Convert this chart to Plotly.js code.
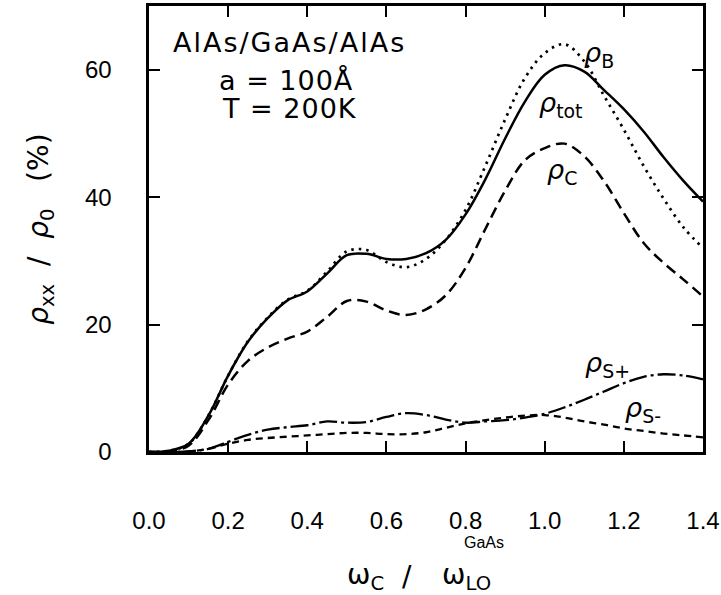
<!DOCTYPE html>
<html>
<head>
<meta charset="utf-8">
<script src="https://cdn.plot.ly/plotly-3.0.1.min.js"></script>
<style>
  html, body { margin: 0; padding: 0; background: #fff; }
  #chart { width: 721px; height: 595px; }
  g.annotation[data-index="0"] text { letter-spacing: 2px; }
  g.annotation[data-index="1"] text, g.annotation[data-index="2"] text { letter-spacing: 1px; }
</style>
</head>
<body>
<div id="chart"></div>
<script>
// omega_c / omega_LO(GaAs)
const xVals = [0.00, 0.05, 0.10, 0.15, 0.20, 0.25, 0.30, 0.35, 0.40, 0.45,
               0.50, 0.55, 0.60, 0.65, 0.70, 0.75, 0.80, 0.85, 0.90, 0.95,
               1.00, 1.05, 1.10, 1.15, 1.20, 1.25, 1.30, 1.35, 1.40];

// rho_xx / rho_0 (%)
const rhoTot = [0, 0.2, 1.3, 5.7, 12.0, 17.3, 21.0, 23.8, 25.2, 28.0,
                30.9, 31.1, 30.3, 30.3, 31.2, 33.3, 37.3, 42.8, 49.2, 55.0,
                59.2, 60.7, 59.7, 56.8, 53.8, 50.3, 46.3, 42.6, 39.3];
const rhoB   = [0, 0.2, 1.3, 5.7, 12.0, 17.4, 21.1, 23.9, 25.3, 28.3,
                31.5, 31.7, 29.8, 29.0, 30.3, 33.3, 38.0, 44.9, 52.2, 58.7,
                62.6, 64.0, 61.3, 55.9, 50.6, 44.9, 39.8, 35.3, 32.0];
const rhoC   = [0, 0.1, 1.0, 5.0, 10.6, 14.3, 16.4, 17.8, 18.9, 21.2,
                23.7, 23.6, 22.2, 21.5, 22.4, 24.6, 28.9, 35.0, 41.0, 45.8,
                47.7, 48.4, 46.4, 42.5, 37.5, 32.8, 29.7, 27.1, 24.4];
const rhoSp  = [0, 0, 0.1, 0.5, 1.6, 2.7, 3.5, 3.9, 4.2, 4.8,
                4.6, 4.7, 5.5, 6.1, 5.8, 5.1, 4.6, 4.8, 5.0, 5.4,
                6.0, 7.0, 8.2, 9.5, 10.8, 11.8, 12.2, 12.0, 11.4];
const rhoSm  = [0, 0, 0.1, 0.5, 1.3, 1.9, 2.2, 2.4, 2.6, 2.8,
                3.0, 3.0, 2.8, 2.8, 3.1, 3.8, 4.5, 5.0, 5.4, 5.7,
                5.8, 5.4, 4.8, 4.3, 3.7, 3.3, 2.9, 2.6, 2.3];

const xTickVals = [0.0, 0.2, 0.4, 0.6, 0.8, 1.0, 1.2, 1.4];
const xTickText = ["0.0", "0.2", "0.4", "0.6", "0.8", "1.0", "1.2", "1.4"];
const yTickVals = [0, 20, 40, 60];
const yTickText = ["0", "20", "40", "60"];

const lineBase = { color: "#000", shape: "spline", smoothing: 1.0 };
const traces = [
  { x: xVals, y: rhoB,   mode: "lines", line: Object.assign({}, lineBase, { width: 2.7, dash: "2.5px,5px" }) },
  { x: xVals, y: rhoTot, mode: "lines", line: Object.assign({}, lineBase, { width: 2.5, dash: "solid" }) },
  { x: xVals, y: rhoC,   mode: "lines", line: Object.assign({}, lineBase, { width: 2.5, dash: "11px,6px" }) },
  { x: xVals, y: rhoSp,  mode: "lines", line: Object.assign({}, lineBase, { width: 2.3, dash: "18px,4px,3px,4px" }) },
  { x: xVals, y: rhoSm,  mode: "lines", line: Object.assign({}, lineBase, { width: 2.3, dash: "7px,5px" }) }
];

const tickFont = { family: "Liberation Sans, Arial, sans-serif", size: 24, color: "#000" };
const txtFont = { family: "DejaVu Sans, sans-serif", size: 27, color: "#000" };
const lblFont = { family: "DejaVu Sans, sans-serif", size: 27, color: "#000" };
const ttlFont = { family: "DejaVu Sans, sans-serif", size: 28, color: "#000" };
const nb = "\u00a0";

const annotations = [
  { xref: "paper", yref: "paper", x: 0.2545, y: 0.919, text: "AlAs/GaAs/AlAs", showarrow: false, font: txtFont, xanchor: "center", yanchor: "middle" },
  { xref: "paper", yref: "paper", x: 0.249, y: 0.832, text: "a = 100Å", showarrow: false, font: txtFont, xanchor: "center", yanchor: "middle" },
  { xref: "paper", yref: "paper", x: 0.2545, y: 0.771, text: "T = 200K", showarrow: false, font: txtFont, xanchor: "center", yanchor: "middle" },
  { xref: "x", yref: "y", x: 1.094, y: 62.4, text: "<i>ρ</i><sub>B</sub>", showarrow: false, font: lblFont, xanchor: "left" },
  { xref: "x", yref: "y", x: 0.981, y: 54.5, text: "<i>ρ</i><sub>tot</sub>", showarrow: false, font: lblFont, xanchor: "left" },
  { xref: "x", yref: "y", x: 1.001, y: 44.0, text: "<i>ρ</i><sub>C</sub>", showarrow: false, font: lblFont, xanchor: "left" },
  { xref: "x", yref: "y", x: 1.097, y: 13.7, text: "<i>ρ</i><sub>S+</sub>", showarrow: false, font: lblFont, xanchor: "left" },
  { xref: "x", yref: "y", x: 1.198, y: 6.6, text: "<i>ρ</i><sub>S-</sub>", showarrow: false, font: lblFont, xanchor: "left" },
  // y axis title
  { xref: "paper", yref: "paper", x: -0.197, y: 0.5, textangle: -90, showarrow: false, xanchor: "center", yanchor: "middle",
    text: "<i>ρ</i><sub>xx</sub>" + nb + nb + "/" + nb + nb + "<i>ρ</i><sub>0</sub>" + nb + nb + nb + "(%)", font: ttlFont },
  // x axis title pieces
  { xref: "paper", yref: "paper", x: (345 - 149) / 554, y: -0.279, showarrow: false, xanchor: "left", yanchor: "middle",
    text: "ω<sub>C</sub>", font: ttlFont },
  { xref: "paper", yref: "paper", x: (407 - 149) / 554, y: -0.279, showarrow: false, xanchor: "center", yanchor: "middle",
    text: "/", font: ttlFont },
  { xref: "paper", yref: "paper", x: (440 - 149) / 554, y: -0.279, showarrow: false, xanchor: "left", yanchor: "middle",
    text: "ω<sub>LO</sub>", font: ttlFont },
  { xref: "paper", yref: "paper", x: (484 - 149) / 554, y: -0.202, showarrow: false, xanchor: "center", yanchor: "middle",
    text: "GaAs", font: { family: "Liberation Sans, Arial, sans-serif", size: 16, color: "#000" } }
];

const layout = {
  width: 721, height: 595,
  margin: { l: 149, r: 18, t: 6, b: 143 },
  paper_bgcolor: "#fff", plot_bgcolor: "#fff",
  showlegend: false,
  xaxis: {
    range: [0, 1.4], tickvals: xTickVals, ticktext: xTickText,
    ticks: "inside", ticklen: 11, tickwidth: 2, tickcolor: "#000",
    showline: true, linewidth: 2.6, linecolor: "#000", mirror: "ticks",
    showgrid: false, zeroline: false, tickfont: tickFont, ticklabelstandoff: 46
  },
  yaxis: {
    range: [0, 70], tickvals: yTickVals, ticktext: yTickText,
    ticks: "inside", ticklen: 11, tickwidth: 2, tickcolor: "#000",
    showline: true, linewidth: 2.6, linecolor: "#000", mirror: "ticks",
    showgrid: false, zeroline: false, tickfont: tickFont, ticklabelstandoff: 30
  },
  annotations: annotations
};

Plotly.newPlot("chart", traces, layout, { staticPlot: true, displayModeBar: false });
</script>
</body>
</html>
